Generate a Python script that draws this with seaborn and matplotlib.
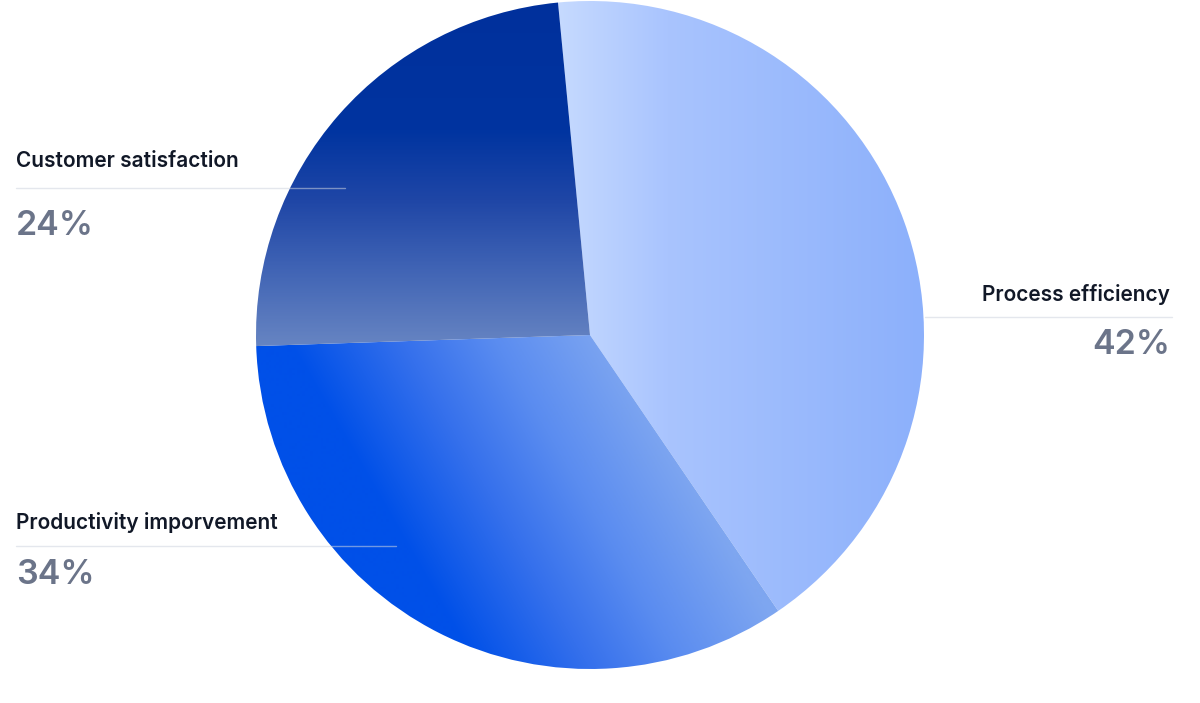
import numpy as np
import matplotlib.pyplot as plt
import seaborn as sns
from matplotlib.colors import LinearSegmentedColormap

# data
categories = ["Process efficiency", "Productivity imporvement", "Customer satisfaction"]
shares = [42, 34, 24]
pct_labels = ["42%", "34%", "24%"]

sns.set_theme(style="white")
plt.rcParams['font.family'] = ['Inter', 'DejaVu Sans']

W, H = 1200, 703
fig = plt.figure(figsize=(12, 7.03), dpi=100)
ax = fig.add_axes([0, 0, 1, 1])

# pie geometry in pixel units (y up)
cx, cy, r = 590, H - 335, 334
wedges, _ = ax.pie(shares, startangle=95.5, counterclock=False,
                   center=(cx, cy), radius=r,
                   wedgeprops=dict(facecolor='none', edgecolor='none'))

# pixel grid for the gradient fills
xs = np.arange(cx - r, cx + r + 1)
ys = np.arange(cy - r, cy + r + 1)
X, Y = np.meshgrid(xs, ys)
PY = H - Y  # screen y
extent = (xs[0], xs[-1], ys[0], ys[-1])

# process efficiency: horizontal light gradient
cm_proc = LinearSegmentedColormap.from_list(
    "proc", [(0, '#c6daff'), (0.3, '#a9c4fe'), (1, '#8cb0fb')])
t_proc = np.clip((X - 558) / (923 - 558), 0, 1)

# productivity: diagonal gradient, bright blue to light blue
cm_prod = LinearSegmentedColormap.from_list(
    "prod", [(0, '#0050e8'), (0.35, '#3570ec'), (0.64, '#5a8cf0'), (1, '#7ea6f0')])
p = 0.866 * X + 0.5 * Y
t_prod = np.clip((p - 430) / (710 - 430), 0, 1)

# customer satisfaction: vertical dark navy gradient
cm_cust = LinearSegmentedColormap.from_list(
    "cust", [(0, '#00309c'), (130 / 345, '#0034a0'), (200 / 345, '#1f46a6'),
             (265 / 345, '#3e62b4'), (1, '#6684c2')])
t_cust = np.clip(PY / 345, 0, 1)

for wedge, t, cm in zip(wedges, [t_proc, t_prod, t_cust], [cm_proc, cm_prod, cm_cust]):
    im = ax.imshow(t, cmap=cm, vmin=0, vmax=1, extent=extent, origin='lower',
                   interpolation='bilinear', zorder=1)
    im.set_clip_path(wedge)

# label positions (screen px): x, label baseline, rule y, pct baseline, rule x-range, alignment
label_pos = [
    (1170, 301, 316.5, 354, (925, 1172), 'right'),
    (16, 529, 546, 584, (16, 396), 'left'),
    (16, 167, 188, 235, (16, 345), 'left'),
]

for name, pct, (x, ly, ry, py, (rx0, rx1), ha) in zip(categories, pct_labels, label_pos):
    ax.text(x, H - ly, name, ha=ha, va='baseline', fontsize=15,
            fontweight='semibold', color='#111827', zorder=3)
    ax.plot([rx0, rx1], [H - ry, H - ry], color='#cfd5df', alpha=0.55, lw=1, zorder=2)
    ax.text(x, H - py, pct, ha=ha, va='baseline', fontsize=24.5,
            fontweight='semibold', color='#6b7489', zorder=3)

ax.set_xlim(0, W)
ax.set_ylim(0, H)
ax.set_aspect('equal')
ax.axis('off')

fig.savefig('out.png', dpi=100, facecolor='white')
